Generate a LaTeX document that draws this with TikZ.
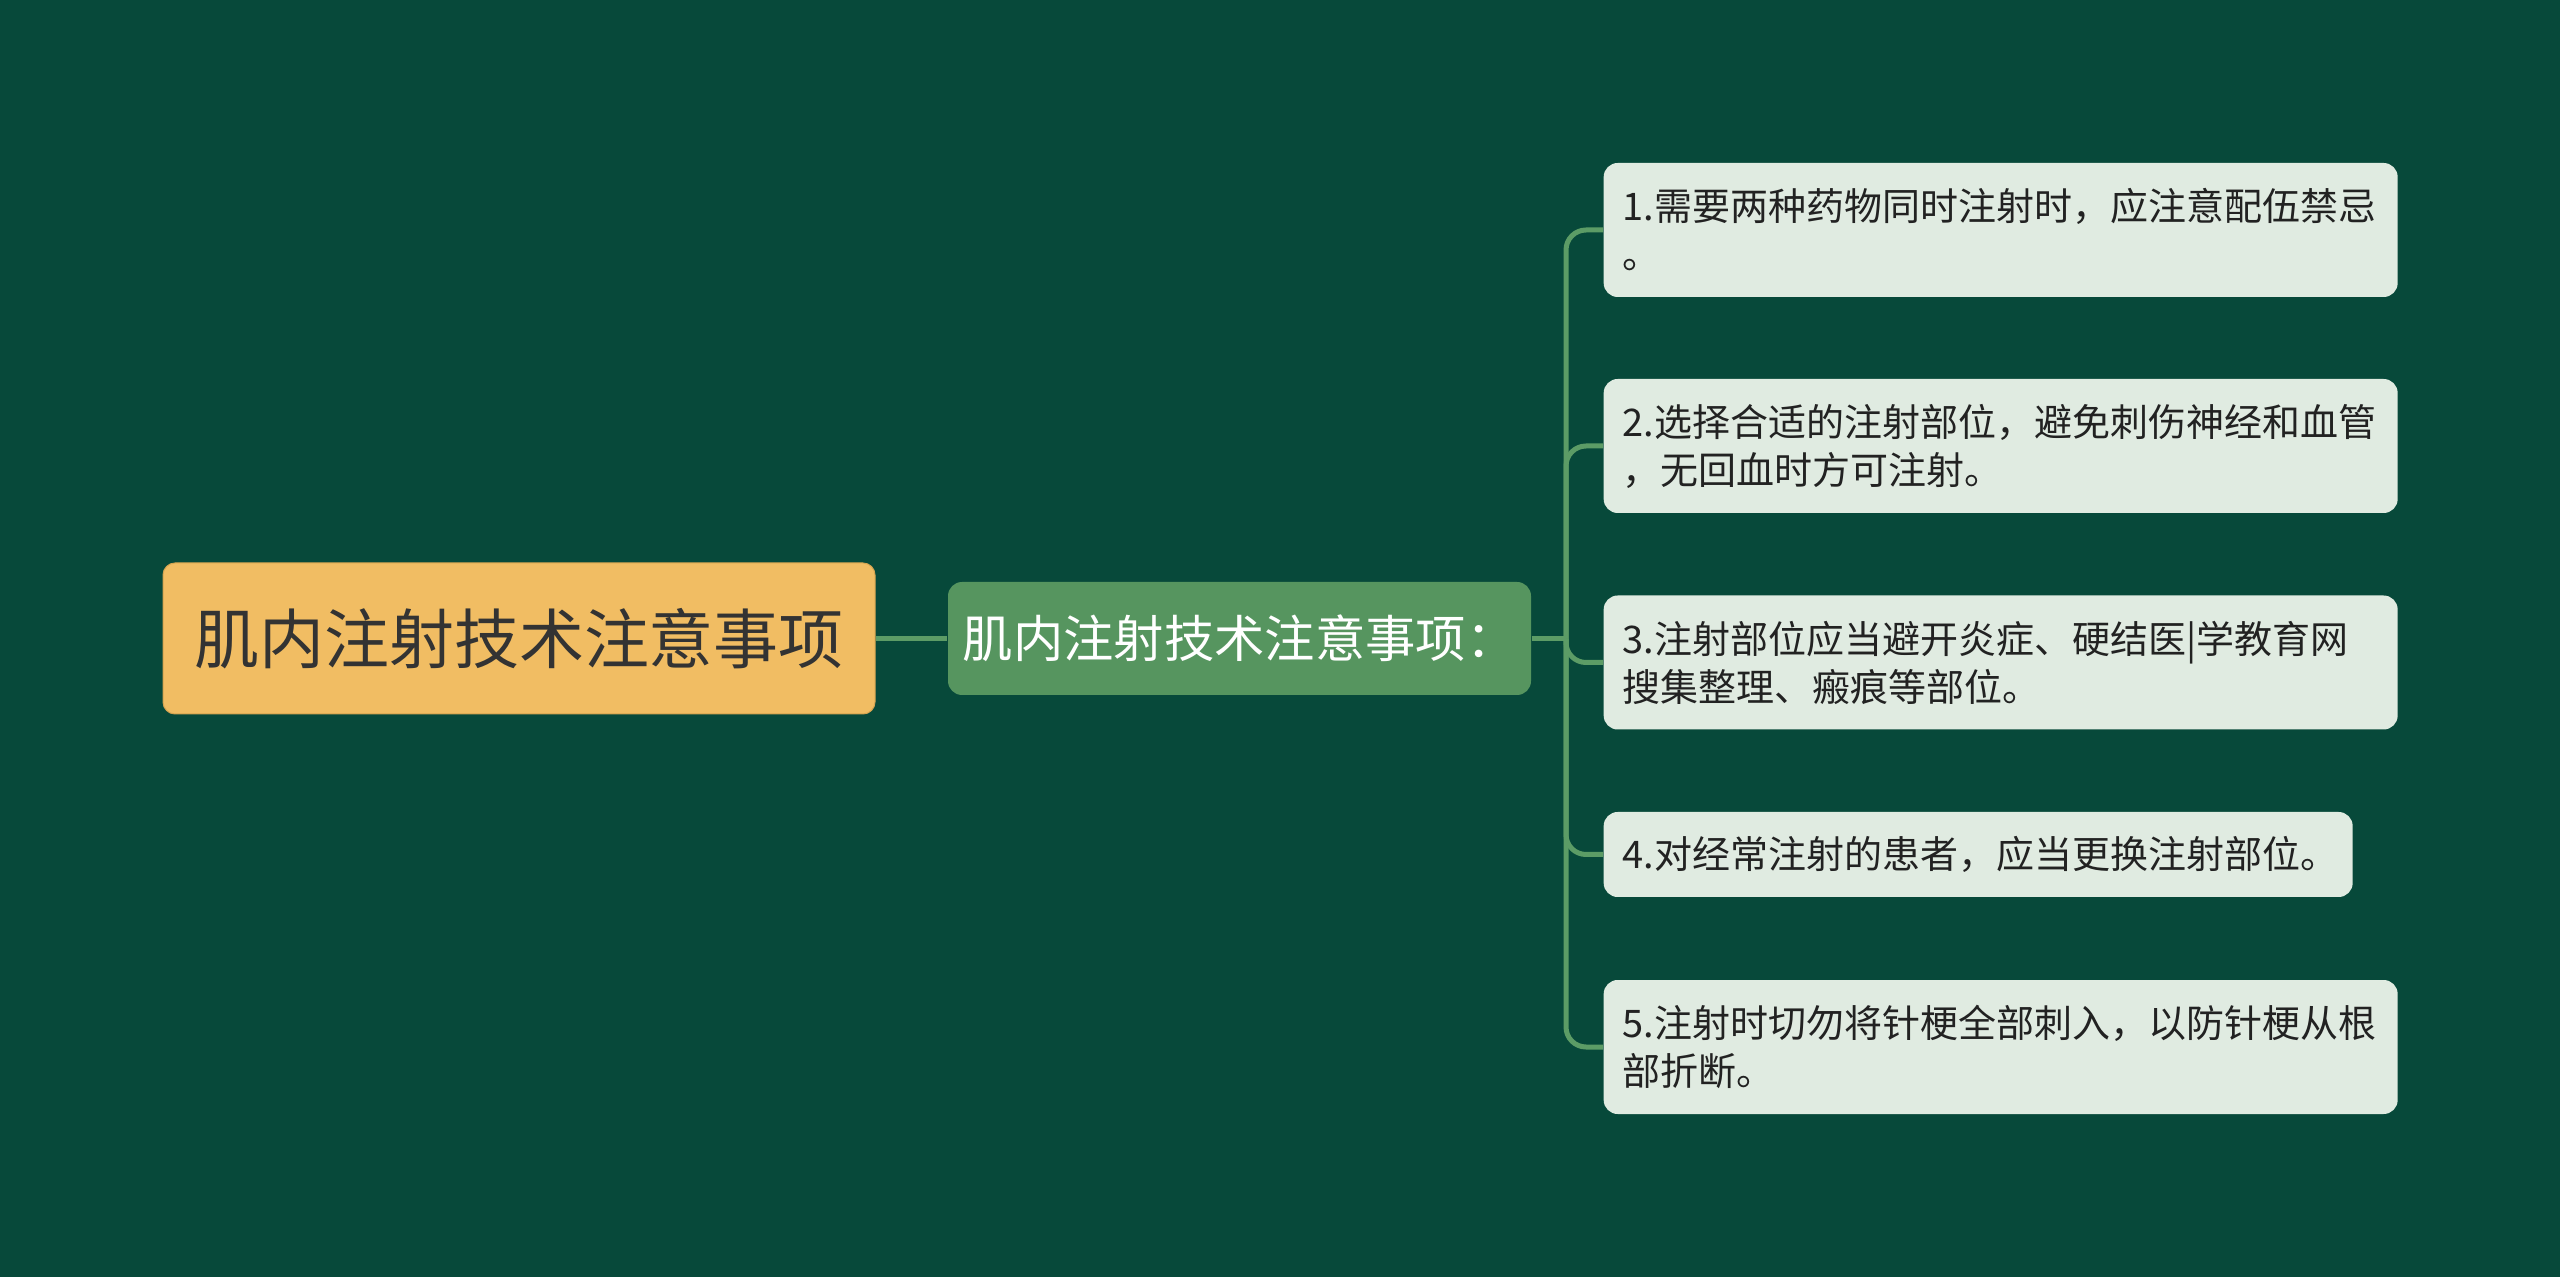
\documentclass[tikz,border=0pt]{standalone}
\usepackage{fontspec}
\setmainfont{Noto Sans CJK SC}
\definecolor{bgc}{HTML}{07493A}
\definecolor{rootc}{HTML}{F1BD63}
\definecolor{rootline}{HTML}{D6A450}
\definecolor{midc}{HTML}{56955F}
\definecolor{leafc}{HTML}{E0EBE1}
\definecolor{connc}{HTML}{5C9C66}
\definecolor{darktxt}{HTML}{333333}
\definecolor{leaftxt}{HTML}{222222}
\tikzset{
  rootbox/.style={fill=rootc, draw=rootline, line width=0.3pt, rounded corners=3.6pt, minimum width=213.6pt, minimum height=45.3pt, inner sep=0pt, text=darktxt, font=\fontsize{19.5pt}{24pt}\selectfont},
  midbox/.style={fill=midc, rounded corners=4.2pt, minimum width=174.9pt, minimum height=33.9pt, inner sep=0pt, text=white, font=\fontsize{15.1pt}{19pt}\selectfont},
  leafbox/.style={fill=leafc, rounded corners=4.2pt, anchor=west, text width=226.8pt, inner xsep=5.7pt, inner ysep=0pt, minimum height=40.2pt, align=left, text=leaftxt, font=\fontsize{11.4pt}{14.4pt}\selectfont},
  conn/.style={draw=connc, line width=1.5pt}
}
\begin{document}
\begin{tikzpicture}[x=0.3pt,y=-0.3pt]
\useasboundingbox (0,0) rectangle (2560,1277);
\fill[bgc] (0,0) rectangle (2560,1277);

\node[rootbox] (root) at (519,638.5) {肌内注射技术注意事项};
\node[midbox] (mid) at (1239.5,638.5) {肌内注射技术注意事项：};

\node[leafbox] (c1) at (1603,230) {1.需要两种药物同时注射时，应注意配伍禁忌\\。};
\node[leafbox] (c2) at (1603,446) {2.选择合适的注射部位，避免刺伤神经和血管\\，无回血时方可注射。};
\node[leafbox] (c3) at (1603,662.5) {3.注射部位应当避开炎症、硬结医|学教育网\\搜集整理、瘢痕等部位。};
\node[leafbox, text width=213.3pt, minimum height=25.5pt] (c4) at (1603,854.5) {4.对经常注射的患者，应当更换注射部位。};
\node[leafbox] (c5) at (1603,1047) {5.注射时切勿将针梗全部刺入，以防针梗从根\\部折断。};

\coordinate (sp) at (1566,638.5);
\draw[conn] (root.east) -- (mid.west);
\draw[conn] (mid.east) -- (sp);
\foreach \c in {c1,c2,c3,c4,c5}
  \draw[conn, rounded corners=6pt] (sp) |- (\c.west);
\end{tikzpicture}
\end{document}
